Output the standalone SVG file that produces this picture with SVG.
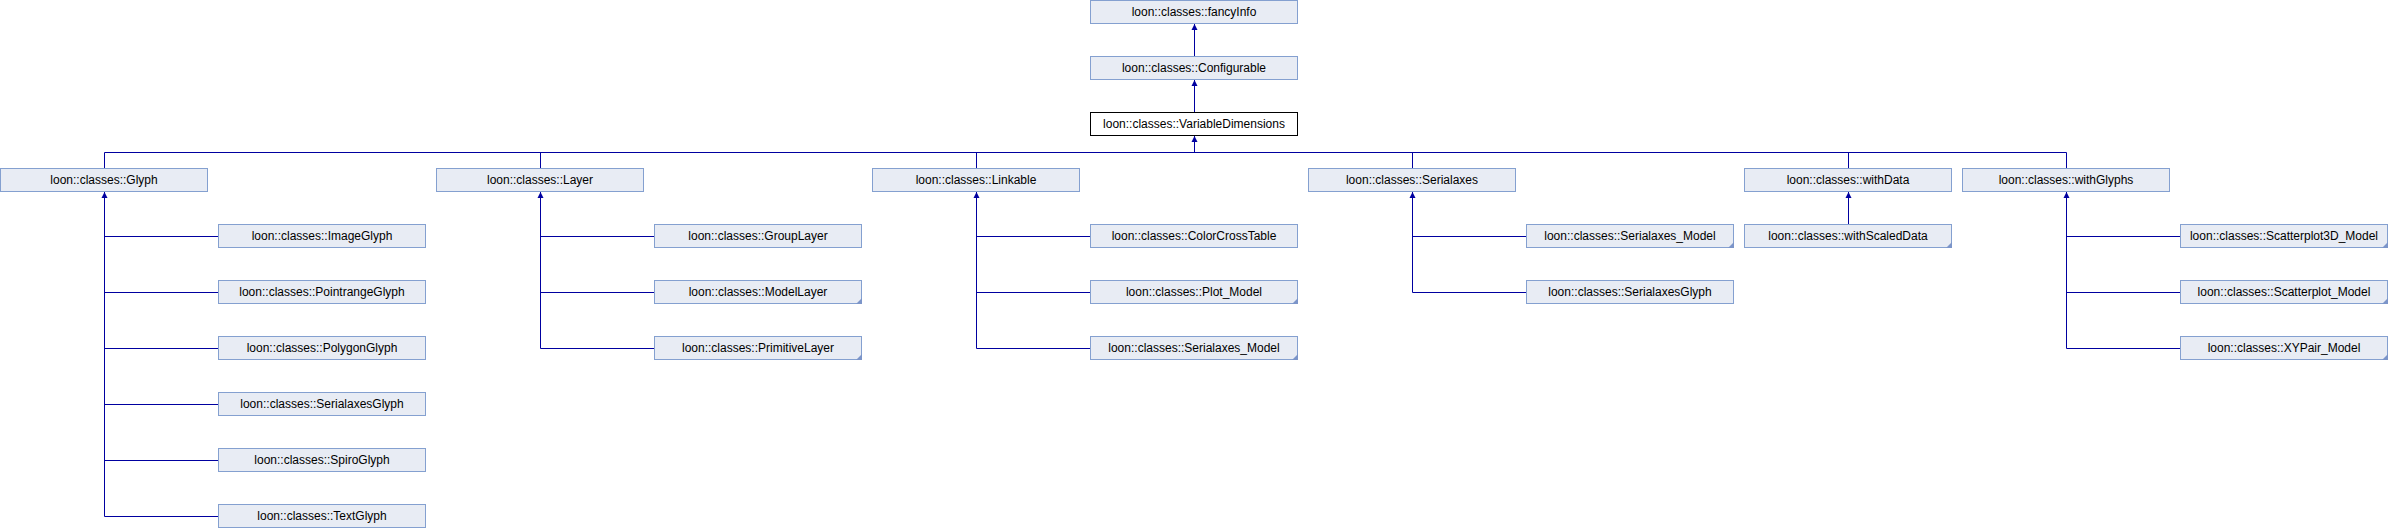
<svg xmlns="http://www.w3.org/2000/svg" xmlns:xlink="http://www.w3.org/1999/xlink" width="2388" height="528" viewBox="0 0 2388 528">
<style>
.box{fill:#E8ECF4;stroke:#84A0D0;stroke-width:1}
.cur{fill:#FFFFFF;stroke:#000000;stroke-width:1}
.lbl{font-family:"Liberation Sans",Arial,sans-serif;font-size:12px;fill:#000000;text-anchor:middle}
.edge{stroke:#0000A0;stroke-width:1;fill:none}
.arr{fill:#0000A0}
.fold{fill:#7C95C9}
</style>
<defs>
<polygon id="ah" class="arr" points="0,0 -3,6 3,6"/>
<polygon id="fd" class="fold" points="208,18 208,24 202,24"/>
</defs>
<rect width="2388" height="528" fill="#FFFFFF"/>
<g id="connectors">
<line class="edge" x1="1194.5" y1="24" x2="1194.5" y2="56"/>
<use href="#ah" x="1194.5" y="24"/>
<line class="edge" x1="1194.5" y1="80" x2="1194.5" y2="112"/>
<use href="#ah" x="1194.5" y="80"/>
<line class="edge" x1="1194.5" y1="136" x2="1194.5" y2="152.5"/>
<use href="#ah" x="1194.5" y="136"/>
<line class="edge" x1="104.5" y1="152.5" x2="2066.5" y2="152.5"/>
<line class="edge" x1="104.5" y1="152.5" x2="104.5" y2="168"/>
<line class="edge" x1="540.5" y1="152.5" x2="540.5" y2="168"/>
<line class="edge" x1="976.5" y1="152.5" x2="976.5" y2="168"/>
<line class="edge" x1="1412.5" y1="152.5" x2="1412.5" y2="168"/>
<line class="edge" x1="1848.5" y1="152.5" x2="1848.5" y2="168"/>
<line class="edge" x1="2066.5" y1="152.5" x2="2066.5" y2="168"/>
<!-- Glyph -->
<polyline class="edge" points="104.5,192 104.5,516.5 218,516.5"/>
<line class="edge" x1="104.5" y1="236.5" x2="218" y2="236.5"/>
<line class="edge" x1="104.5" y1="292.5" x2="218" y2="292.5"/>
<line class="edge" x1="104.5" y1="348.5" x2="218" y2="348.5"/>
<line class="edge" x1="104.5" y1="404.5" x2="218" y2="404.5"/>
<line class="edge" x1="104.5" y1="460.5" x2="218" y2="460.5"/>
<use href="#ah" x="104.5" y="192"/>
<!-- Layer -->
<polyline class="edge" points="540.5,192 540.5,348.5 654,348.5"/>
<line class="edge" x1="540.5" y1="236.5" x2="654" y2="236.5"/>
<line class="edge" x1="540.5" y1="292.5" x2="654" y2="292.5"/>
<use href="#ah" x="540.5" y="192"/>
<!-- Linkable -->
<polyline class="edge" points="976.5,192 976.5,348.5 1090,348.5"/>
<line class="edge" x1="976.5" y1="236.5" x2="1090" y2="236.5"/>
<line class="edge" x1="976.5" y1="292.5" x2="1090" y2="292.5"/>
<use href="#ah" x="976.5" y="192"/>
<!-- Serialaxes -->
<polyline class="edge" points="1412.5,192 1412.5,292.5 1526,292.5"/>
<line class="edge" x1="1412.5" y1="236.5" x2="1526" y2="236.5"/>
<use href="#ah" x="1412.5" y="192"/>
<!-- withData -->
<line class="edge" x1="1848.5" y1="192" x2="1848.5" y2="224"/>
<use href="#ah" x="1848.5" y="192"/>
<!-- withGlyphs -->
<polyline class="edge" points="2066.5,192 2066.5,348.5 2180,348.5"/>
<line class="edge" x1="2066.5" y1="236.5" x2="2180" y2="236.5"/>
<line class="edge" x1="2066.5" y1="292.5" x2="2180" y2="292.5"/>
<use href="#ah" x="2066.5" y="192"/>
</g>
<g id="n_fancyInfo" transform="translate(1090,0)"><rect class="box" x="0.5" y="0.5" width="207" height="23"/><text class="lbl" x="104" y="16">loon::classes::fancyInfo</text></g>
<g id="n_Configurable" transform="translate(1090,56)"><rect class="box" x="0.5" y="0.5" width="207" height="23"/><text class="lbl" x="104" y="16">loon::classes::Configurable</text></g>
<g id="n_VariableDimensions" transform="translate(1090,112)"><rect class="cur" x="0.5" y="0.5" width="207" height="23"/><text class="lbl" x="104" y="16">loon::classes::VariableDimensions</text></g>

<g id="n_Glyph" transform="translate(0,168)"><rect class="box" x="0.5" y="0.5" width="207" height="23"/><text class="lbl" x="104" y="16">loon::classes::Glyph</text></g>
<g id="n_Layer" transform="translate(436,168)"><rect class="box" x="0.5" y="0.5" width="207" height="23"/><text class="lbl" x="104" y="16">loon::classes::Layer</text></g>
<g id="n_Linkable" transform="translate(872,168)"><rect class="box" x="0.5" y="0.5" width="207" height="23"/><text class="lbl" x="104" y="16">loon::classes::Linkable</text></g>
<g id="n_Serialaxes" transform="translate(1308,168)"><rect class="box" x="0.5" y="0.5" width="207" height="23"/><text class="lbl" x="104" y="16">loon::classes::Serialaxes</text></g>
<g id="n_withData" transform="translate(1744,168)"><rect class="box" x="0.5" y="0.5" width="207" height="23"/><text class="lbl" x="104" y="16">loon::classes::withData</text></g>
<g id="n_withGlyphs" transform="translate(1962,168)"><rect class="box" x="0.5" y="0.5" width="207" height="23"/><text class="lbl" x="104" y="16">loon::classes::withGlyphs</text></g>

<g id="n_ImageGlyph" transform="translate(218,224)"><rect class="box" x="0.5" y="0.5" width="207" height="23"/><text class="lbl" x="104" y="16">loon::classes::ImageGlyph</text></g>
<g id="n_PointrangeGlyph" transform="translate(218,280)"><rect class="box" x="0.5" y="0.5" width="207" height="23"/><text class="lbl" x="104" y="16">loon::classes::PointrangeGlyph</text></g>
<g id="n_PolygonGlyph" transform="translate(218,336)"><rect class="box" x="0.5" y="0.5" width="207" height="23"/><text class="lbl" x="104" y="16">loon::classes::PolygonGlyph</text></g>
<g id="n_SerialaxesGlyph_a" transform="translate(218,392)"><rect class="box" x="0.5" y="0.5" width="207" height="23"/><text class="lbl" x="104" y="16">loon::classes::SerialaxesGlyph</text></g>
<g id="n_SpiroGlyph" transform="translate(218,448)"><rect class="box" x="0.5" y="0.5" width="207" height="23"/><text class="lbl" x="104" y="16">loon::classes::SpiroGlyph</text></g>
<g id="n_TextGlyph" transform="translate(218,504)"><rect class="box" x="0.5" y="0.5" width="207" height="23"/><text class="lbl" x="104" y="16">loon::classes::TextGlyph</text></g>

<g id="n_GroupLayer" transform="translate(654,224)"><rect class="box" x="0.5" y="0.5" width="207" height="23"/><text class="lbl" x="104" y="16">loon::classes::GroupLayer</text></g>
<g id="n_ModelLayer" transform="translate(654,280)"><rect class="box" x="0.5" y="0.5" width="207" height="23"/><use href="#fd"/><text class="lbl" x="104" y="16">loon::classes::ModelLayer</text></g>
<g id="n_PrimitiveLayer" transform="translate(654,336)"><rect class="box" x="0.5" y="0.5" width="207" height="23"/><use href="#fd"/><text class="lbl" x="104" y="16">loon::classes::PrimitiveLayer</text></g>

<g id="n_ColorCrossTable" transform="translate(1090,224)"><rect class="box" x="0.5" y="0.5" width="207" height="23"/><text class="lbl" x="104" y="16">loon::classes::ColorCrossTable</text></g>
<g id="n_Plot_Model" transform="translate(1090,280)"><rect class="box" x="0.5" y="0.5" width="207" height="23"/><use href="#fd"/><text class="lbl" x="104" y="16">loon::classes::Plot_Model</text></g>
<g id="n_Serialaxes_Model_a" transform="translate(1090,336)"><rect class="box" x="0.5" y="0.5" width="207" height="23"/><use href="#fd"/><text class="lbl" x="104" y="16">loon::classes::Serialaxes_Model</text></g>

<g id="n_Serialaxes_Model_b" transform="translate(1526,224)"><rect class="box" x="0.5" y="0.5" width="207" height="23"/><use href="#fd"/><text class="lbl" x="104" y="16">loon::classes::Serialaxes_Model</text></g>
<g id="n_SerialaxesGlyph_b" transform="translate(1526,280)"><rect class="box" x="0.5" y="0.5" width="207" height="23"/><text class="lbl" x="104" y="16">loon::classes::SerialaxesGlyph</text></g>

<g id="n_withScaledData" transform="translate(1744,224)"><rect class="box" x="0.5" y="0.5" width="207" height="23"/><use href="#fd"/><text class="lbl" x="104" y="16">loon::classes::withScaledData</text></g>

<g id="n_Scatterplot3D_Model" transform="translate(2180,224)"><rect class="box" x="0.5" y="0.5" width="207" height="23"/><use href="#fd"/><text class="lbl" x="104" y="16">loon::classes::Scatterplot3D_Model</text></g>
<g id="n_Scatterplot_Model" transform="translate(2180,280)"><rect class="box" x="0.5" y="0.5" width="207" height="23"/><use href="#fd"/><text class="lbl" x="104" y="16">loon::classes::Scatterplot_Model</text></g>
<g id="n_XYPair_Model" transform="translate(2180,336)"><rect class="box" x="0.5" y="0.5" width="207" height="23"/><use href="#fd"/><text class="lbl" x="104" y="16">loon::classes::XYPair_Model</text></g>
</svg>
